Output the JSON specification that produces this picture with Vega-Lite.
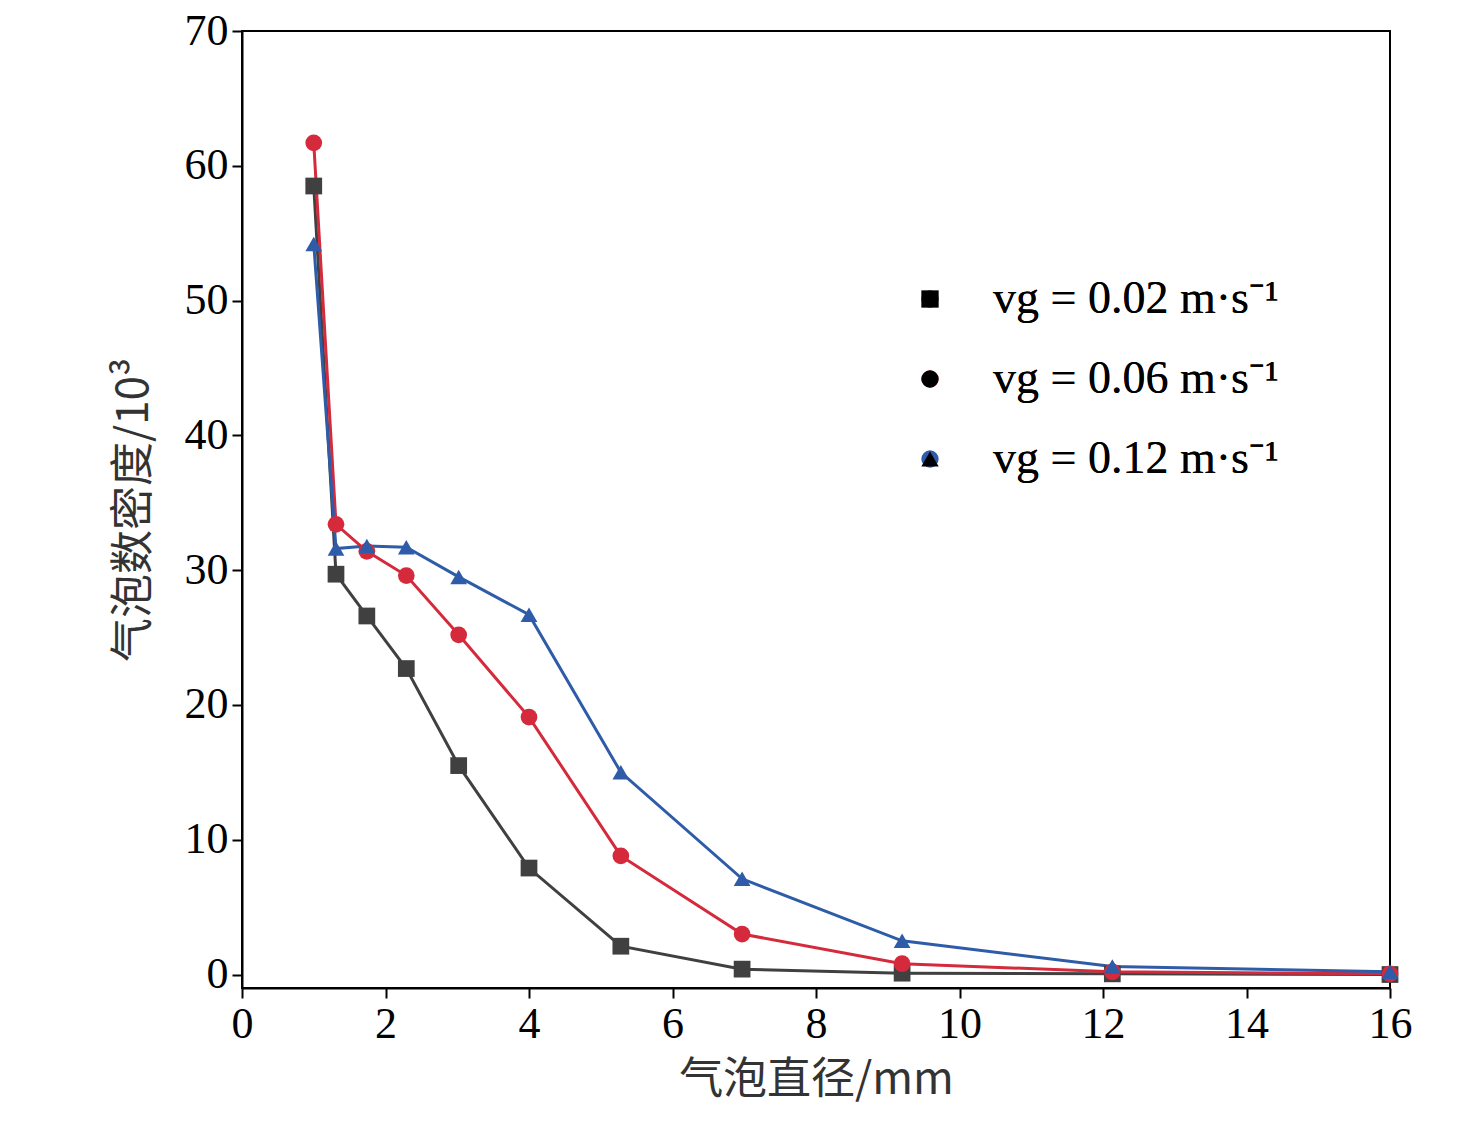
{
  "$schema": "https://vega.github.io/schema/vega-lite/v6.json",
  "width": 1148,
  "height": 957,
  "autosize": {"type": "none"},
  "padding": {"left": 242, "top": 31, "right": 86, "bottom": 142},
  "background": "white",
  "data": {
    "values": [
      {"d": 1.0, "n": 58.5, "s": "vg = 0.02 m·s⁻¹"},
      {"d": 1.31, "n": 29.7, "s": "vg = 0.02 m·s⁻¹"},
      {"d": 1.74, "n": 26.6, "s": "vg = 0.02 m·s⁻¹"},
      {"d": 2.29, "n": 22.7, "s": "vg = 0.02 m·s⁻¹"},
      {"d": 3.02, "n": 15.5, "s": "vg = 0.02 m·s⁻¹"},
      {"d": 4.0, "n": 7.9, "s": "vg = 0.02 m·s⁻¹"},
      {"d": 5.28, "n": 2.1, "s": "vg = 0.02 m·s⁻¹"},
      {"d": 6.97, "n": 0.4, "s": "vg = 0.02 m·s⁻¹"},
      {"d": 9.2, "n": 0.1, "s": "vg = 0.02 m·s⁻¹"},
      {"d": 12.13, "n": 0.05, "s": "vg = 0.02 m·s⁻¹"},
      {"d": 16, "n": 0.0, "s": "vg = 0.02 m·s⁻¹"},
      {"d": 1.0, "n": 61.7, "s": "vg = 0.06 m·s⁻¹"},
      {"d": 1.31, "n": 33.4, "s": "vg = 0.06 m·s⁻¹"},
      {"d": 1.74, "n": 31.4, "s": "vg = 0.06 m·s⁻¹"},
      {"d": 2.29, "n": 29.6, "s": "vg = 0.06 m·s⁻¹"},
      {"d": 3.02, "n": 25.2, "s": "vg = 0.06 m·s⁻¹"},
      {"d": 4.0, "n": 19.1, "s": "vg = 0.06 m·s⁻¹"},
      {"d": 5.28, "n": 8.8, "s": "vg = 0.06 m·s⁻¹"},
      {"d": 6.97, "n": 3.0, "s": "vg = 0.06 m·s⁻¹"},
      {"d": 9.2, "n": 0.8, "s": "vg = 0.06 m·s⁻¹"},
      {"d": 12.13, "n": 0.2, "s": "vg = 0.06 m·s⁻¹"},
      {"d": 16, "n": 0.05, "s": "vg = 0.06 m·s⁻¹"},
      {"d": 1.0, "n": 54.2, "s": "vg = 0.12 m·s⁻¹"},
      {"d": 1.31, "n": 31.6, "s": "vg = 0.12 m·s⁻¹"},
      {"d": 1.74, "n": 31.8, "s": "vg = 0.12 m·s⁻¹"},
      {"d": 2.29, "n": 31.7, "s": "vg = 0.12 m·s⁻¹"},
      {"d": 3.02, "n": 29.5, "s": "vg = 0.12 m·s⁻¹"},
      {"d": 4.0, "n": 26.7, "s": "vg = 0.12 m·s⁻¹"},
      {"d": 5.28, "n": 15.0, "s": "vg = 0.12 m·s⁻¹"},
      {"d": 6.97, "n": 7.1, "s": "vg = 0.12 m·s⁻¹"},
      {"d": 9.2, "n": 2.5, "s": "vg = 0.12 m·s⁻¹"},
      {"d": 12.13, "n": 0.6, "s": "vg = 0.12 m·s⁻¹"},
      {"d": 16, "n": 0.2, "s": "vg = 0.12 m·s⁻¹"}
    ]
  },
  "encoding": {
    "x": {"field": "d", "type": "quantitative", "scale": {"domain": [0, 16], "nice": false, "zero": false},
      "axis": {"values": [0, 2, 4, 6, 8, 10, 12, 14, 16], "title": "气泡直径/mm"}},
    "y": {"field": "n", "type": "quantitative", "scale": {"domain": [-1, 70], "nice": false, "zero": false},
      "axis": {"values": [0, 10, 20, 30, 40, 50, 60, 70], "title": "气泡数密度/10³"}},
    "color": {"field": "s", "type": "nominal",
      "scale": {"range": ["#404040", "#d42a3c", "#2e5ca8"]},
      "legend": {"title": null, "orient": "none", "legendX": 665, "legendY": 245}}
  },
  "layer": [
    {"mark": {"type": "line", "strokeWidth": 3}},
    {"mark": {"type": "point", "size": 280, "filled": true, "opacity": 1},
     "encoding": {
       "shape": {"field": "s", "type": "nominal",
         "scale": {"range": ["square", "circle", "triangle-up"]},
         "legend": {"title": null, "orient": "none", "legendX": 665, "legendY": 245}}
     }}
  ],
  "config": {
    "font": "Liberation Serif",
    "view": {"stroke": "black", "strokeWidth": 2},
    "axis": {
      "grid": false, "domainColor": "black", "domainWidth": 2, "tickColor": "black", "tickWidth": 2, "tickSize": 10,
      "labelFont": "Liberation Serif", "labelFontSize": 44, "labelColor": "black", "labelPadding": 4, "labelFlush": false,
      "titleFont": "Noto Sans CJK SC", "titleFontSize": 44, "titleFontWeight": "normal", "titleColor": "#333"
    },
    "axisX": {"titlePadding": 12},
    "axisY": {"titlePadding": 28},
    "legend": {
      "labelFont": "Liberation Serif", "labelFontSize": 46, "labelColor": "black", "labelLimit": 500,
      "symbolSize": 300, "symbolStrokeWidth": 0, "symbolOpacity": 1, "rowPadding": 34, "labelOffset": 40
    }
  }
}
